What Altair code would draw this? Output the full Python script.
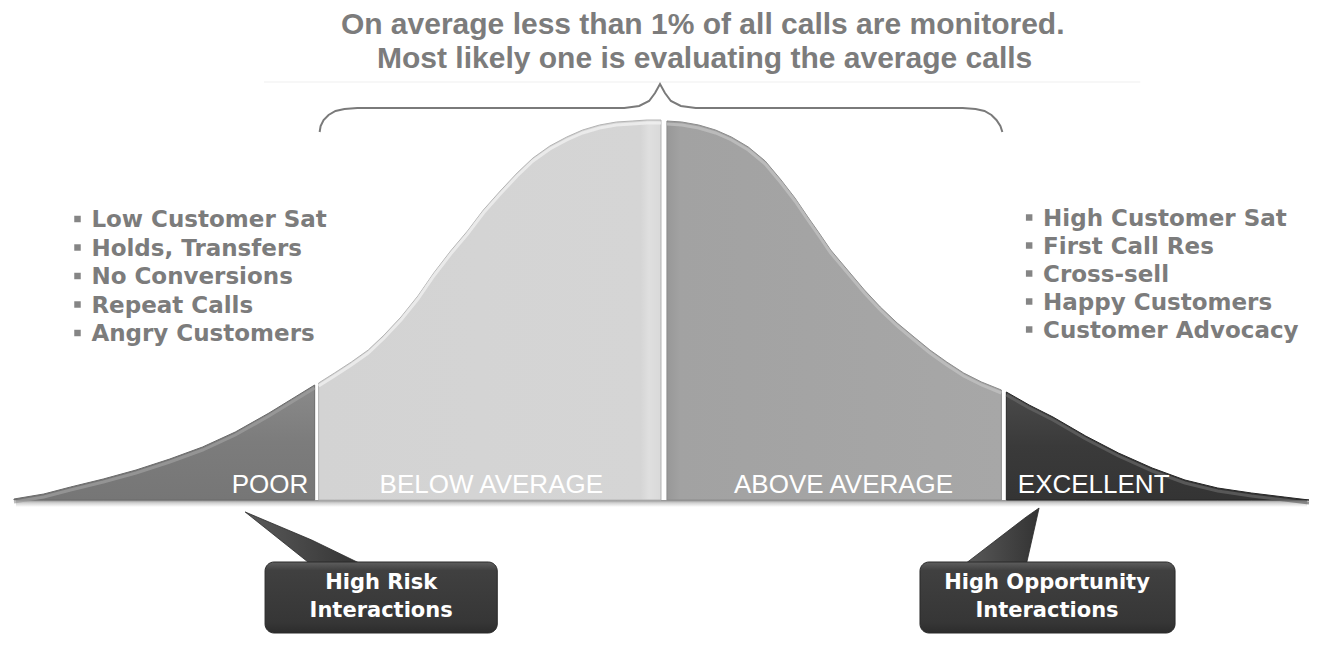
import altair as alt
import pandas as pd

# ---------------- data ----------------
title_lines = ["On average less than 1% of all calls are monitored.",
               "Most likely one is evaluating the average calls"]
title_x = [704, 706]
title_y = [34, 68]

rule_x = [262, 1145]
rule_y = [82, 82]

brace_x = [318, 319, 322, 327, 334, 343, 356, 625, 640, 650, 656, 661,
           666, 672, 682, 697, 966, 979, 988, 995, 1000, 1004, 1006]
brace_y = [132, 126, 120, 115, 111, 109, 108, 108, 106, 101, 93, 84,
           93, 101, 106, 108, 108, 109, 111, 115, 120, 126, 132]

seg_names = ["POOR", "BELOW AVERAGE", "ABOVE AVERAGE", "EXCELLENT"]
poor_x = [10, 40, 67, 100, 133, 167, 200, 233, 267, 290, 313]
poor_y = [499, 494, 487, 479, 470, 459, 447, 432, 413, 399, 385]
below_x = [317, 333, 350, 367, 383, 400, 417, 433, 450, 467, 483, 500,
           517, 533, 550, 567, 583, 600, 617, 633, 648, 662]
below_y = [383, 373, 362, 350, 335, 317, 296, 273, 251, 231, 210, 191,
           173, 158, 146, 137, 130, 125, 122, 121, 120, 120]
above_x = [668, 683, 700, 717, 733, 750, 767, 783, 797, 810, 822, 833,
           850, 867, 883, 900, 917, 933, 950, 967, 985, 1005]
above_y = [121, 122, 125, 130, 137, 147, 161, 180, 198, 217, 234, 250,
           270, 290, 307, 323, 337, 350, 362, 373, 382, 390]
excel_x = [1010, 1033, 1057, 1090, 1123, 1157, 1190, 1223, 1257, 1290, 1315]
excel_y = [392, 405, 417, 436, 453, 468, 480, 488, 493, 497, 500]
curve_base = 500

seg_label_x = [268, 491, 846, 1098]
seg_label_y = [493, 493, 493, 493]

left_items = ["Low Customer Sat", "Holds, Transfers", "No Conversions",
              "Repeat Calls", "Angry Customers"]
left_item_y = [227, 255.5, 284, 312.5, 341]
left_text_x = 88
left_bullet_x = 74
right_items = ["High Customer Sat", "First Call Res", "Cross-sell",
               "Happy Customers", "Customer Advocacy"]
right_item_y = [225.5, 253.5, 281.5, 309.5, 337.5]
right_text_x = 1047
right_bullet_x = 1033

callout_line1 = ["High Risk", "High Opportunity"]
callout_line2 = ["Interactions", "Interactions"]
callout_x1 = [263, 923]
callout_x2 = [497, 1180]
callout_y1 = [562, 562]
callout_y2 = [633, 633]
callout_text_x = [380, 1051]
callout_text_y1 = [583, 583]
callout_text_y2 = [611, 611]

# pointer wedges: tip and the two base points on the box top
risk_ptr_x = [243, 310, 362]
risk_ptr_top = [512, 540, 565]
risk_ptr_bot = [512, 565, 565]
opp_ptr_x = [967, 1030, 1043]
opp_ptr_top = [565, 517, 508]
opp_ptr_bot = [565, 565, 508]

# ---------------- helpers ----------------
XS = alt.Scale(domain=[8, 1315])
YS = alt.Scale(domain=[8, 638], reverse=True)


def X(f):
    return alt.X(f, type="quantitative", scale=XS, axis=None)


def Y(f):
    return alt.Y(f, type="quantitative", scale=YS, axis=None, stack=None)


def grad(stops, vertical=True):
    return alt.Gradient(
        gradient="linear",
        stops=[alt.GradientStop(color=c, offset=o) for o, c in stops],
        x1=0, y1=0, x2=0 if vertical else 1, y2=1 if vertical else 0)


layers = []

# faint rule under title
layers.append(alt.Chart(pd.DataFrame({"x": [rule_x[0]], "x2": [rule_x[1]], "y": [rule_y[0]]}))
              .mark_rule(color="#efefef", strokeWidth=1)
              .encode(x=X("x"), x2="x2", y=Y("y")))

# title
layers.append(alt.Chart(pd.DataFrame({"x": title_x, "y": title_y, "t": title_lines}))
              .mark_text(font="Liberation Sans", fontWeight="bold", fontSize=30,
                         color="#7c7c7c", align="center", baseline="alphabetic")
              .encode(x=X("x"), y=Y("y"), text="t:N"))

# brace
layers.append(alt.Chart(pd.DataFrame({"x": brace_x, "y": brace_y, "o": list(range(len(brace_x)))}))
              .mark_line(color="#7a7a7a", strokeWidth=2)
              .encode(x=X("x"), y=Y("y"), order="o:Q"))

# shadow under the baseline
layers.append(alt.Chart(pd.DataFrame({"x": [12], "x2": [1313], "y": [curve_base], "y2": [curve_base + 7]}))
              .mark_rect(fill=grad([(0, "#8c8c8c"), (0.4, "#cfcfcf"), (1, "#ffffff")]))
              .encode(x=X("x"), x2="x2", y=Y("y"), y2="y2"))

# curve segments
seg_pts = [(poor_x, poor_y), (below_x, below_y), (above_x, above_y), (excel_x, excel_y)]
frames = []
for name, (xs, ys) in zip(seg_names, seg_pts):
    frames.append(pd.DataFrame({"seg": name, "x": xs, "y": ys, "base": curve_base}))
curve = pd.concat(frames, ignore_index=True)

seg_fills = [
    grad([(0, "#8a8a8a"), (0.5, "#7c7c7c"), (1, "#767676")]),
    grad([(0, "#d3d3d3"), (0.94, "#d5d5d5"), (0.965, "#dfdfdf"), (1, "#d9d9d9")], vertical=False),
    grad([(0, "#989898"), (0.04, "#a2a2a2"), (1, "#a7a7a7")], vertical=False),
    grad([(0, "#4a4a4a"), (0.5, "#3a3a3a"), (1, "#343434")]),
]
seg_strokes = ["#6a6a6a", "#b4b4b4", "#8c8c8c", "#262626"]
seg_high = ["#a0a0a0", "#f4f4f4", "#c4c4c4", "#666666"]

for name, fill, stroke in zip(seg_names, seg_fills, seg_strokes):
    layers.append(alt.Chart(curve).transform_filter(alt.datum.seg == name)
                  .mark_area(fill=fill, stroke=stroke, strokeWidth=1)
                  .encode(x=X("x"), y=Y("y"), y2="base"))

# highlight bevel along the top edge
layers.append(alt.Chart(curve).mark_line(strokeWidth=3, yOffset=3, opacity=0.7)
              .encode(x=X("x"), y=Y("y"), detail="seg:N",
                      color=alt.Color("seg:N", scale=alt.Scale(domain=seg_names, range=seg_high),
                                      legend=None)))

# segment labels
layers.append(alt.Chart(pd.DataFrame({"x": seg_label_x, "y": seg_label_y, "t": seg_names}))
              .mark_text(font="Liberation Sans", fontSize=26,
                         color="#ffffff", align="center", baseline="alphabetic")
              .encode(x=X("x"), y=Y("y"), text="t:N"))

# bullet lists
items = pd.DataFrame({
    "x": [left_text_x] * len(left_items) + [right_text_x] * len(right_items),
    "bx": [left_bullet_x] * len(left_items) + [right_bullet_x] * len(right_items),
    "y": left_item_y + right_item_y,
    "t": left_items + right_items,
})
layers.append(alt.Chart(items)
              .mark_text(font="DejaVu Sans", fontWeight="bold", fontSize=23,
                         color="#7c7c7c", align="left", baseline="alphabetic")
              .encode(x=X("x"), y=Y("y"), text="t:N"))
layers.append(alt.Chart(items)
              .mark_square(size=42, color="#858585", opacity=1, yOffset=-8)
              .encode(x=X("bx"), y=Y("y")))

# callout shadows
boxes = pd.DataFrame({"x": callout_x1, "x2": callout_x2, "y": callout_y1, "y2": callout_y2})
layers.append(alt.Chart(boxes)
              .mark_rect(cornerRadius=9, color="#9a9a9a", opacity=0.45, xOffset=3, yOffset=4)
              .encode(x=X("x"), x2="x2", y=Y("y"), y2="y2"))

# pointer wedges
ptr = pd.concat([
    pd.DataFrame({"p": "risk", "x": risk_ptr_x, "y": risk_ptr_top, "y2": risk_ptr_bot}),
    pd.DataFrame({"p": "opp", "x": opp_ptr_x, "y": opp_ptr_top, "y2": opp_ptr_bot}),
], ignore_index=True)
layers.append(alt.Chart(ptr)
              .mark_area(fill=grad([(0, "#5a5a5a"), (1, "#333333")], vertical=False),
                         stroke="#2a2a2a", strokeWidth=0.8)
              .encode(x=X("x"), y=Y("y"), y2="y2", detail="p:N"))

# callout boxes
layers.append(alt.Chart(boxes)
              .mark_rect(cornerRadius=9,
                         fill=grad([(0, "#5e5e5e"), (0.12, "#404040"), (0.85, "#363636"), (1, "#2c2c2c")]),
                         stroke="#2a2a2a", strokeWidth=1)
              .encode(x=X("x"), x2="x2", y=Y("y"), y2="y2"))

ctext = pd.DataFrame({
    "x": callout_text_x + callout_text_x,
    "y": callout_text_y1 + callout_text_y2,
    "t": callout_line1 + callout_line2,
})
layers.append(alt.Chart(ctext)
              .mark_text(font="DejaVu Sans", fontWeight="bold", fontSize=21,
                         color="#ffffff", align="center", baseline="middle")
              .encode(x=X("x"), y=Y("y"), text="t:N"))

chart = (alt.layer(*layers)
         .properties(width=1307, height=630, padding=0, background="#ffffff",
                     autosize=alt.AutoSizeParams(type="fit", contains="padding"))
         .configure_view(stroke=None))

chart.save("out.html", embed_options={"renderer": "svg", "actions": False})
